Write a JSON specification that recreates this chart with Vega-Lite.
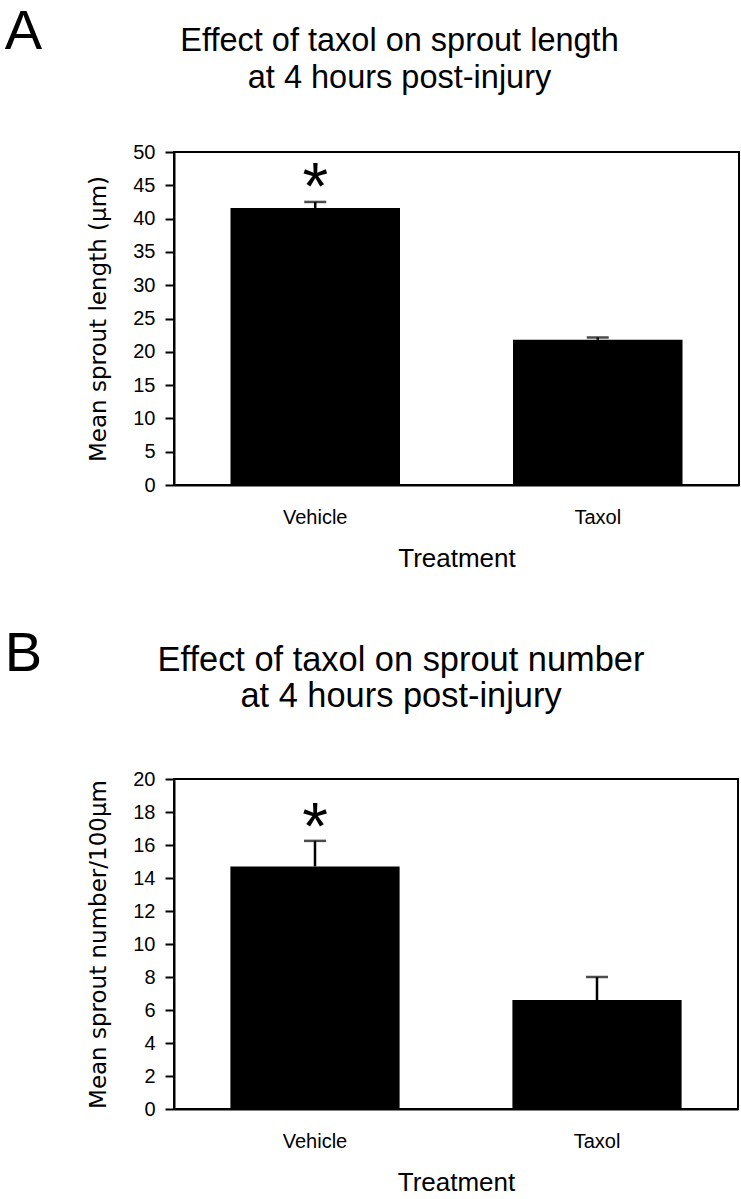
{
  "$schema": "https://vega.github.io/schema/vega-lite/v6.json",
  "background": "white",
  "padding": {"left": 4, "top": 3, "right": 2, "bottom": 2},
  "spacing": 53,
  "config": {
    "font": "Liberation Sans",
    "view": {"stroke": "black", "strokeWidth": 2},
    "axis": {"grid": false, "domainColor": "black", "domainWidth": 2, "tickColor": "black", "labelColor": "black", "titleColor": "black", "labelFont": "Liberation Sans", "titleFont": "Liberation Sans", "labelOverlap": false},
    "title": {"color": "black", "font": "Liberation Sans", "fontWeight": "normal"}
  },
  "datasets": {
    "length": [
      {"treatment": "Vehicle", "mean": 41.6, "upper": 42.5, "sig": "*"},
      {"treatment": "Taxol", "mean": 21.8, "upper": 22.15, "sig": ""}
    ],
    "number": [
      {"treatment": "Vehicle", "mean": 14.7, "upper": 16.25, "sig": "*"},
      {"treatment": "Taxol", "mean": 6.6, "upper": 8.0, "sig": ""}
    ]
  },
  "vconcat": [
    {
      "title": {"text": "A", "fontSize": 56, "anchor": "start", "dx": -82, "dy": 41, "fontWeight": "normal"},
      "vconcat": [
        {
          "width": 565,
          "height": 333,
          "title": {"text": ["Effect of taxol on sprout length", "at 4 hours post-injury"], "fontSize": 32.5, "lineHeight": 37, "anchor": "middle", "frame": "group", "dx": -57, "offset": 48, "fontWeight": "normal"},
          "data": {"name": "length"},
          "encoding": {
            "x": {"field": "treatment", "type": "nominal", "sort": null,
              "scale": {"paddingInner": 0.4, "paddingOuter": 0.2},
              "axis": {"title": "Treatment", "titleFontSize": 26, "titleFontWeight": "normal", "titlePadding": 18, "labelFontSize": 20, "labelAngle": 0, "ticks": false, "labelPadding": 22}}
          },
          "layer": [
            {
              "mark": {"type": "bar", "color": "black"},
              "encoding": {
                "y": {"field": "mean", "type": "quantitative", "scale": {"domain": [0, 50]},
                  "axis": {"title": "Mean sprout length (µm)", "titleFont": "DejaVu Sans", "titleFontSize": 23, "titleFontWeight": "normal", "titlePadding": 22, "values": [0, 5, 10, 15, 20, 25, 30, 35, 40, 45, 50], "labelFontSize": 20, "tickSize": 9, "tickWidth": 2, "labelPadding": 10}}
              }
            },
            {
              "mark": {"type": "rule", "color": "black", "strokeWidth": 2.5},
              "encoding": {"y": {"field": "mean", "type": "quantitative", "scale": {"domain": [0, 50]},
                  "axis": {"title": "Mean sprout length (µm)", "titleFont": "DejaVu Sans", "titleFontSize": 23, "titleFontWeight": "normal", "titlePadding": 22, "values": [0, 5, 10, 15, 20, 25, 30, 35, 40, 45, 50], "labelFontSize": 20, "tickSize": 9, "tickWidth": 2, "labelPadding": 10}}, "y2": {"field": "upper"}}
            },
            {
              "mark": {"type": "tick", "color": "black", "thickness": 2.5, "size": 22},
              "encoding": {"y": {"field": "upper", "type": "quantitative", "scale": {"domain": [0, 50]},
                  "axis": {"title": "Mean sprout length (µm)", "titleFont": "DejaVu Sans", "titleFontSize": 23, "titleFontWeight": "normal", "titlePadding": 22, "values": [0, 5, 10, 15, 20, 25, 30, 35, 40, 45, 50], "labelFontSize": 20, "tickSize": 9, "tickWidth": 2, "labelPadding": 10}}}
            },
            {
              "mark": {"type": "text", "fontSize": 66, "baseline": "alphabetic", "dy": 7, "color": "black"},
              "encoding": {"y": {"field": "upper", "type": "quantitative", "scale": {"domain": [0, 50]},
                  "axis": {"title": "Mean sprout length (µm)", "titleFont": "DejaVu Sans", "titleFontSize": 23, "titleFontWeight": "normal", "titlePadding": 22, "values": [0, 5, 10, 15, 20, 25, 30, 35, 40, 45, 50], "labelFontSize": 20, "tickSize": 9, "tickWidth": 2, "labelPadding": 10}}, "text": {"field": "sig"}}
            }
          ]
        }
      ]
    },
    {
      "title": {"text": "B", "fontSize": 56, "anchor": "start", "dx": -82, "dy": 45, "fontWeight": "normal"},
      "vconcat": [
        {
          "width": 564,
          "height": 330,
          "title": {"text": ["Effect of taxol on sprout number", "at 4 hours post-injury"], "fontSize": 34.4, "lineHeight": 36, "anchor": "middle", "frame": "group", "dx": -55, "offset": 55, "fontWeight": "normal"},
          "data": {"name": "number"},
          "encoding": {
            "x": {"field": "treatment", "type": "nominal", "sort": null,
              "scale": {"paddingInner": 0.4, "paddingOuter": 0.2},
              "axis": {"title": "Treatment", "titleFontSize": 26, "titleFontWeight": "normal", "titlePadding": 18, "labelFontSize": 20, "labelAngle": 0, "ticks": false, "labelPadding": 22}}
          },
          "layer": [
            {
              "mark": {"type": "bar", "color": "black"},
              "encoding": {
                "y": {"field": "mean", "type": "quantitative", "scale": {"domain": [0, 20]},
                  "axis": {"title": "Mean sprout number/100µm", "titleFont": "DejaVu Sans", "titleFontSize": 23, "titleFontWeight": "normal", "titlePadding": 22, "values": [0, 2, 4, 6, 8, 10, 12, 14, 16, 18, 20], "labelFontSize": 20, "tickSize": 9, "tickWidth": 2, "labelPadding": 10}}
              }
            },
            {
              "mark": {"type": "rule", "color": "black", "strokeWidth": 2.5},
              "encoding": {"y": {"field": "mean", "type": "quantitative", "scale": {"domain": [0, 20]},
                  "axis": {"title": "Mean sprout number/100µm", "titleFont": "DejaVu Sans", "titleFontSize": 23, "titleFontWeight": "normal", "titlePadding": 22, "values": [0, 2, 4, 6, 8, 10, 12, 14, 16, 18, 20], "labelFontSize": 20, "tickSize": 9, "tickWidth": 2, "labelPadding": 10}}, "y2": {"field": "upper"}}
            },
            {
              "mark": {"type": "tick", "color": "black", "thickness": 2.5, "size": 22},
              "encoding": {"y": {"field": "upper", "type": "quantitative", "scale": {"domain": [0, 20]},
                  "axis": {"title": "Mean sprout number/100µm", "titleFont": "DejaVu Sans", "titleFontSize": 23, "titleFontWeight": "normal", "titlePadding": 22, "values": [0, 2, 4, 6, 8, 10, 12, 14, 16, 18, 20], "labelFontSize": 20, "tickSize": 9, "tickWidth": 2, "labelPadding": 10}}}
            },
            {
              "mark": {"type": "text", "fontSize": 66, "baseline": "alphabetic", "dy": 8, "color": "black"},
              "encoding": {"y": {"field": "upper", "type": "quantitative", "scale": {"domain": [0, 20]},
                  "axis": {"title": "Mean sprout number/100µm", "titleFont": "DejaVu Sans", "titleFontSize": 23, "titleFontWeight": "normal", "titlePadding": 22, "values": [0, 2, 4, 6, 8, 10, 12, 14, 16, 18, 20], "labelFontSize": 20, "tickSize": 9, "tickWidth": 2, "labelPadding": 10}}, "text": {"field": "sig"}}
            }
          ]
        }
      ]
    }
  ]
}
